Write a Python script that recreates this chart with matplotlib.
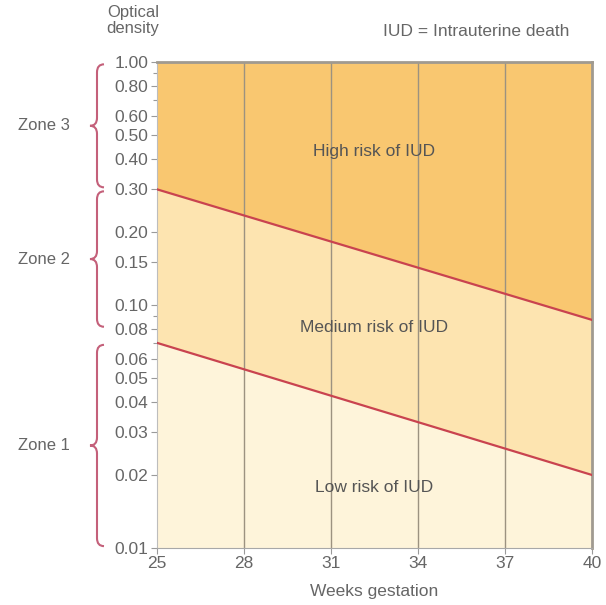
import numpy as np
import matplotlib.pyplot as plt
from matplotlib.path import Path
from matplotlib.patches import PathPatch
from matplotlib.transforms import IdentityTransform

plt.rcParams['font.family'] = ['Liberation Sans', 'DejaVu Sans']

# Données
weeks = [25, 40]
upper_line = [0.30, 0.087]   # limite zone 2 / zone 3
lower_line = [0.070, 0.020]  # limite zone 1 / zone 2
x_ticks = [25, 28, 31, 34, 37, 40]
y_ticks = [0.01, 0.02, 0.03, 0.04, 0.05, 0.06, 0.08, 0.10, 0.15, 0.20,
           0.30, 0.40, 0.50, 0.60, 0.80, 1.00]
y_minor = [0.07, 0.09, 0.7, 0.9]
zone_names = ["Zone 3", "Zone 2", "Zone 1"]
zone_bounds = [(1.00, 0.30), (0.30, 0.08), (0.07, 0.01)]
zone_texts = ["High risk of IUD", "Medium risk of IUD", "Low risk of IUD"]
zone_text_y = [0.43, 0.081, 0.0177]

grey = "#666666"
red = "#c9434f"
brace_col = "#c4607a"

fig = plt.figure(figsize=(6.06, 6.05), dpi=100)
ax = fig.add_axes([0.259, 0.094, 0.718, 0.803])
ax.set_yscale("log")
ax.set_xlim(25, 40)
ax.set_ylim(0.01, 1.0)

# Zones colorées
ax.fill_between(weeks, upper_line, [1.0, 1.0], color="#f9c770", lw=0)
ax.fill_between(weeks, lower_line, upper_line, color="#fde4b0", lw=0)
ax.fill_between(weeks, [0.01, 0.01], lower_line, color="#fef4da", lw=0)

# Lignes verticales
for w in x_ticks[1:-1]:
    ax.axvline(w, color="#9c9280", lw=1.0, zorder=2)

# Limites entre zones
ax.plot(weeks, upper_line, color=red, lw=1.6, zorder=3)
ax.plot(weeks, lower_line, color=red, lw=1.6, zorder=3)

for txt, yv in zip(zone_texts, zone_text_y):
    ax.text(32.5, yv, txt, ha="center", va="center", fontsize=12.5, color="#555555")

# Axes
ax.set_xticks(x_ticks)
ax.set_xticklabels([str(w) for w in x_ticks])
ax.set_yticks(y_ticks)
ax.set_yticklabels(["%.2f" % v for v in y_ticks])
ax.set_yticks(y_minor, minor=True)
ax.yaxis.set_minor_formatter(plt.NullFormatter())
ax.tick_params(axis="both", colors="#9a9a9a", labelcolor=grey, labelsize=12.5, length=4, width=0.8)
ax.tick_params(axis="y", which="minor", colors="#9a9a9a", length=3, width=0.8)
ax.tick_params(axis="x", pad=2)
ax.tick_params(axis="y", pad=2)
ax.spines["left"].set_color("#bdbdbd")
ax.spines["bottom"].set_color("#a8a8a8")
ax.spines["top"].set_color("#a09a90")
ax.spines["top"].set_linewidth(2)
ax.spines["right"].set_color("#a09a90")
ax.spines["right"].set_linewidth(2)
ax.set_xlabel("Weeks gestation", fontsize=12.5, color=grey, labelpad=9)

fig.text(133 / 606, 0.966, "Optical\ndensity", ha="center", va="center", fontsize=12, color=grey, linespacing=1.1)
fig.text(476 / 606, 0.948, "IUD = Intrauterine death", ha="center", va="center", fontsize=12.5, color=grey)

# Accolades des zones (en pixels)
def accolade(y_top, y_bot, x_c, w=7, r=8):
    ym = (y_top + y_bot) / 2
    verts = [(x_c + w, y_top), (x_c, y_top), (x_c, y_top - r),
             (x_c, ym + r),
             (x_c, ym), (x_c - w, ym),
             (x_c, ym), (x_c, ym - r),
             (x_c, y_bot + r),
             (x_c, y_bot), (x_c + w, y_bot)]
    codes = [Path.MOVETO, Path.CURVE3, Path.CURVE3, Path.LINETO,
             Path.CURVE3, Path.CURVE3, Path.CURVE3, Path.CURVE3,
             Path.LINETO, Path.CURVE3, Path.CURVE3]
    return Path(verts, codes)

H = fig.bbox.height
for name, (top, bot) in zip(zone_names, zone_bounds):
    y_top = ax.transData.transform((25, top))[1]
    y_bot = ax.transData.transform((25, bot))[1]
    patch = PathPatch(accolade(y_top - 2, y_bot + 2, 97), transform=IdentityTransform(),
                      fill=False, ec=brace_col, lw=1.5)
    fig.add_artist(patch)
    fig.text(70 / 606, ((y_top + y_bot) / 2) / H, name, ha="right", va="center",
             fontsize=12, color=grey)

fig.savefig("out.png", dpi=100)
